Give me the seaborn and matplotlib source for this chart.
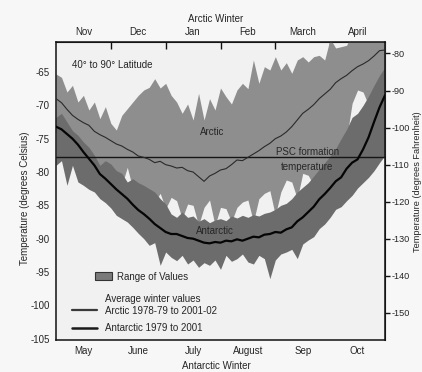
import numpy as np
import pandas as pd
import matplotlib
matplotlib.use("Agg")
import matplotlib.pyplot as plt
from matplotlib.patches import Patch
from matplotlib.lines import Line2D
import seaborn as sns

# ---------------- data ----------------
months_bottom = ["May", "June", "July", "August", "Sep", "Oct"]
months_top = ["Nov", "Dec", "Jan", "Feb", "March", "April"]

arctic_mean = [-69.0, -69.6, -70.6, -71.5, -72.1, -72.6, -73.0, -73.9, -74.4, -74.8,
               -75.3, -75.8, -76.1, -76.6, -77.0, -77.6, -77.8, -78.1, -78.6, -78.4,
               -78.9, -79.1, -79.4, -79.3, -79.8, -80.0, -80.7, -81.4, -80.6, -80.2,
               -79.7, -79.5, -78.9, -78.2, -78.3, -77.8, -77.3, -76.8, -76.2, -75.7,
               -75.0, -74.6, -74.0, -73.2, -72.2, -71.2, -70.6, -69.9, -69.0, -68.3,
               -67.6, -66.6, -66.0, -65.5, -64.8, -64.2, -63.8, -63.3, -62.6, -61.8,
               -61.7]
arctic_upper = [-65.3, -65.8, -68.0, -67.0, -69.5, -68.5, -70.7, -69.5, -72.0, -70.2,
                -72.7, -73.7, -71.5, -70.5, -69.5, -68.5, -67.7, -67.3, -66.0, -67.4,
                -66.7, -68.5, -69.5, -71.2, -69.8, -72.2, -68.2, -72.2, -69.0, -70.7,
                -67.4, -68.7, -69.8, -67.7, -66.7, -67.5, -63.2, -66.7, -64.2, -64.7,
                -62.7, -64.7, -63.6, -65.2, -63.2, -62.7, -63.5, -62.7, -62.5, -63.2,
                -60.0, -61.4, -61.2, -61.0, -59.0, -59.0, -59.0, -59.0, -59.0, -59.0,
                -59.0]
arctic_lower = [-74.0, -74.5, -75.0, -76.0, -76.5, -77.5, -78.0, -79.0, -80.0, -80.5,
                -81.0, -81.5, -82.0, -79.3, -82.5, -83.0, -83.5, -84.0, -84.5, -83.2,
                -85.5, -83.8, -84.3, -87.0, -84.8, -85.0, -88.0, -85.3, -84.2, -88.0,
                -85.3, -85.5, -87.5, -85.3, -84.5, -84.2, -87.5, -84.0, -83.2, -82.8,
                -86.5, -83.0, -81.2, -81.5, -84.0, -80.2, -80.5, -82.0, -81.0, -80.0,
                -79.0, -78.0, -76.5, -75.0, -69.7, -67.7, -68.0, -70.0, -68.5, -67.0,
                -66.0]
antarctic_mean = [-73.2, -73.6, -74.3, -75.0, -75.9, -77.0, -78.0, -79.0, -80.3, -81.0,
                  -81.8, -82.6, -83.3, -84.0, -84.9, -85.7, -86.3, -87.0, -87.8, -88.4,
                  -89.0, -89.3, -89.3, -89.6, -89.9, -90.0, -90.3, -90.6, -90.7, -90.5,
                  -90.6, -90.3, -90.4, -90.1, -90.3, -90.0, -89.7, -89.8, -89.4, -89.3,
                  -89.0, -89.1, -88.6, -88.3, -87.4, -86.8, -86.0, -85.2, -84.1, -83.3,
                  -82.4, -81.4, -80.8, -79.5, -78.6, -78.1, -76.6, -74.8, -72.5, -70.3,
                  -68.5]
antarctic_upper = [-71.8, -71.2, -72.5, -73.8, -74.5, -75.5, -76.3, -77.5, -79.0, -78.3,
                   -78.8, -79.8, -80.2, -81.5, -81.0, -81.6, -82.0, -82.5, -83.0, -84.0,
                   -84.8, -86.3, -86.8, -86.0, -86.8, -86.6, -87.4, -87.0, -87.6, -87.2,
                   -87.0, -87.3, -86.6, -86.9, -86.5, -86.8, -86.4, -86.6, -86.2, -86.0,
                   -85.6, -85.0, -84.7, -84.0, -83.0, -82.3, -81.6, -80.6, -79.6, -78.6,
                   -77.6, -76.5, -75.0, -73.6, -71.8, -71.2, -70.0, -68.6, -67.0, -65.5,
                   -64.3]
antarctic_lower = [-79.0, -78.3, -82.0, -79.0, -81.5, -82.0, -82.6, -83.0, -84.0, -84.6,
                   -85.4, -86.5, -87.0, -87.5, -88.3, -89.2, -90.0, -91.0, -90.6, -94.0,
                   -92.0, -92.8, -93.3, -92.5, -93.8, -93.2, -94.3, -93.6, -94.0, -93.2,
                   -94.6, -92.5, -93.4, -93.0, -92.3, -93.5, -93.8, -92.5, -93.0, -96.0,
                   -93.2, -92.3, -92.0, -91.6, -93.0, -90.8, -90.2, -89.7, -88.5, -87.8,
                   -86.8, -85.6, -85.2, -84.3, -83.5, -82.4, -81.6, -80.8, -79.8, -78.6,
                   -77.5]
psc_temperature = -77.7

celsius_ticks = [-65, -70, -75, -80, -85, -90, -95, -100, -105]
fahrenheit_ticks = [-80, -90, -100, -110, -120, -130, -140, -150]

# ---------------- figure ----------------
sns.set_style("white")
plt.rcParams['font.family'] = ['Liberation Sans', 'DejaVu Sans']
plt.rcParams['axes.unicode_minus'] = False
FS = 7

t = np.linspace(0, 6, len(arctic_mean))
df = pd.DataFrame({"t": t, "arctic": arctic_mean, "antarctic": antarctic_mean})

fig = plt.figure(figsize=(4.22, 3.72), dpi=100, facecolor="#f7f7f7")
ax = fig.add_axes([56 / 422, 1 - 340 / 372, 329 / 422, 298 / 372])
ax.set_facecolor("#f1f1f1")

ARC_BAND = "#8e8e8e"
ANT_BAND = "#6c6c6c"

ax.fill_between(t, arctic_lower, arctic_upper, color=ARC_BAND, lw=0, zorder=1)
ax.fill_between(t, antarctic_lower, antarctic_upper, color=ANT_BAND, lw=0, zorder=2)
ax.axhline(psc_temperature, color="#151515", lw=1.0, zorder=3)
sns.lineplot(data=df, x="t", y="arctic", ax=ax, color="#2a2a2a", lw=0.8,
             legend=False, zorder=4)
sns.lineplot(data=df, x="t", y="antarctic", ax=ax, color="#050505", lw=1.6,
             legend=False, zorder=5)

ax.set_xlim(0, 6)
ax.set_ylim(-105.2, -60.5)
ax.set_xlabel("")
ax.set_ylabel("")

for s in ax.spines.values():
    s.set_color("#111111")
    s.set_linewidth(1.1)

# bottom axis (Antarctic months)
ax.set_xticks([1, 2, 3, 4, 5])
ax.set_xticks([0.5, 1.5, 2.5, 3.5, 4.5, 5.5], minor=True)
ax.set_xticklabels(months_bottom, minor=True, fontsize=FS)
ax.tick_params(axis="x", which="major", direction="out", length=4, width=1,
               labelbottom=False, color="#111111")
ax.tick_params(axis="x", which="minor", length=0, pad=4)

# top axis (Arctic months)
top = ax.secondary_xaxis("top")
top.set_xticks([1, 2, 3, 4, 5])
top.set_xticks([0.5, 1.5, 2.5, 3.5, 4.5, 5.5], minor=True)
top.set_xticklabels(months_top, minor=True, fontsize=FS)
top.tick_params(axis="x", which="major", direction="in", length=5, width=1,
                labeltop=False, color="#111111")
top.tick_params(axis="x", which="minor", length=0, pad=3.5)

# left axis
ax.set_yticks(celsius_ticks)
ax.set_yticklabels([str(v) for v in celsius_ticks], fontsize=FS)
ax.tick_params(axis="y", direction="out", length=3, width=1, pad=1.5, color="#111111")

# right axis
right = ax.secondary_yaxis("right", functions=(lambda c: c * 1.8 + 32,
                                                lambda f: (f - 32) / 1.8))
right.set_yticks(fahrenheit_ticks)
right.set_yticklabels([str(v) for v in fahrenheit_ticks], fontsize=6.6)
right.tick_params(axis="y", direction="out", length=3.5, width=1, pad=1.0, color="#111111")

# axis titles
fig.text(216 / 422, 1 - 19 / 372, "Arctic Winter", ha="center", va="center", fontsize=FS)
fig.text(216 / 422, 1 - 366 / 372, "Antarctic Winter", ha="center", va="center", fontsize=FS)
fig.text(25 / 422, 1 - 198 / 372, "Temperature (degrees Celsius)", rotation=90,
         ha="center", va="center", fontsize=FS)
fig.text(417.5 / 422, 1 - 182 / 372, "Temperature (degrees Fahrenheit)", rotation=90,
         ha="center", va="center", fontsize=6.6)

# annotations
ax.text(0.29, -63.9, "40\u00b0 to 90\u00b0 Latitude", ha="left", va="center", fontsize=FS)
ax.text(2.85, -74.0, "Arctic", ha="center", va="center", fontsize=FS)
ax.text(2.90, -88.8, "Antarctic", ha="center", va="center", fontsize=FS)
ax.text(4.58, -77.0, "PSC formation", ha="center", va="center", fontsize=FS, zorder=6)
ax.text(4.58, -79.3, "temperature", ha="center", va="center", fontsize=FS, zorder=6)

# legends
leg1 = ax.legend(handles=[Patch(facecolor="#7a7a7a", edgecolor="#333333", lw=0.8)],
                 labels=["Range of Values"], loc="center left",
                 bbox_to_anchor=((95 - 56) / 329, (340 - 276.5) / 298),
                 frameon=False, fontsize=FS, borderpad=0, borderaxespad=0,
                 handlelength=1.75, handleheight=0.95, handletextpad=0.5)
ax.add_artist(leg1)
ax.text((105 - 56) / 329, (340 - 299) / 298, "Average winter values",
        transform=ax.transAxes, ha="left", va="center", fontsize=FS)
ax.legend(handles=[Line2D([], [], color="#3a3a3a", lw=1.6),
                   Line2D([], [], color="#1a1a1a", lw=1.8)],
          labels=["Arctic 1978-79 to 2001-02", "Antarctic 1979 to 2001"],
          loc="center left", bbox_to_anchor=((72 - 56) / 329, (340 - 319.5) / 298),
          frameon=False, fontsize=FS, borderpad=0, borderaxespad=0,
          handlelength=2.6, handletextpad=0.8, labelspacing=0.75)

fig.savefig("out.png", dpi=100, facecolor=fig.get_facecolor())
